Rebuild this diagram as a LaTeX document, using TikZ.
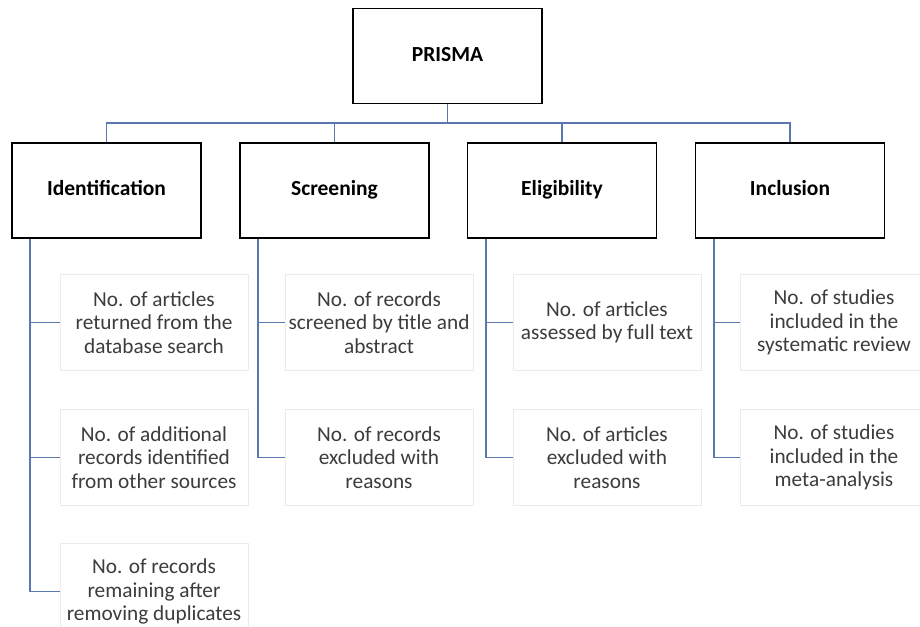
\documentclass[tikz,border=0pt]{standalone}
\usepackage{fontspec}
\setmainfont{Carlito}
\usetikzlibrary{positioning}

\definecolor{linkblue}{HTML}{5A78AE}
\definecolor{textgray}{HTML}{3C3C3C}
\definecolor{faintgray}{HTML}{EBEBEB}

\begin{document}
\begin{tikzpicture}[x=1pt, y=-1pt,
    stagebox/.style={draw=black, line width=1.6pt, minimum width=189pt, minimum height=95pt, text height=14pt, text depth=4pt, font=\fontsize{21.5}{24}\selectfont\bfseries},
    countbox/.style={draw=faintgray, line width=0.8pt, minimum width=188pt, minimum height=96pt, align=center, text=textgray, font=\fontsize{21.3}{23.5}\selectfont},
    link/.style={draw=linkblue, line width=1.6pt}]

    \useasboundingbox (0,0) rectangle (920,626);

    % Top box
    \node[stagebox] (prisma) at (447.5,56) {PRISMA};

    % Stage boxes
    \node[stagebox] (ident)  at (106.5,190.5) {Identification};
    \node[stagebox] (screen) at (334.5,190.5) {Screening};
    \node[stagebox] (elig)   at (562,190.5)   {Eligibility};
    \node[stagebox] (incl)   at (790,190.5)   {Inclusion};

    % Bus from the top box
    \foreach \s in {ident,screen,elig,incl}
      \draw[link] (prisma.south) |- ([yshift=19pt]\s.north) -- (\s.north);

    % Counts under each stage
    \node[countbox] (ident1) at (154,322.5) {No. of articles\\returned from the\\database search};
    \node[countbox] (ident2) at (154,457.5) {No. of additional\\records identified\\from other sources};
    \node[countbox] (ident3) at (154,591.5) {No. of records\\remaining after\\removing duplicates};

    \node[countbox] (screen1) at (379,322.5) {No. of records\\screened by title and\\abstract};
    \node[countbox] (screen2) at (379,457.5) {No. of records\\excluded with\\reasons};

    \node[countbox] (elig1) at (607,322.5) {No. of articles\\assessed by full text};
    \node[countbox] (elig2) at (607,457.5) {No. of articles\\excluded with\\reasons};

    \node[countbox] (incl1) at (834,322.5) {No. of studies\\included in the\\systematic review};
    \node[countbox] (incl2) at (834,457.5) {No. of studies\\included in the\\meta-analysis};

    % Stems to the counts
    \foreach \s/\c in {ident/ident1,ident/ident2,ident/ident3,screen/screen1,screen/screen2,elig/elig1,elig/elig2,incl/incl1,incl/incl2}
      \draw[link] ([xshift=19pt]\s.south west) |- (\c.west);

\end{tikzpicture}
\end{document}
